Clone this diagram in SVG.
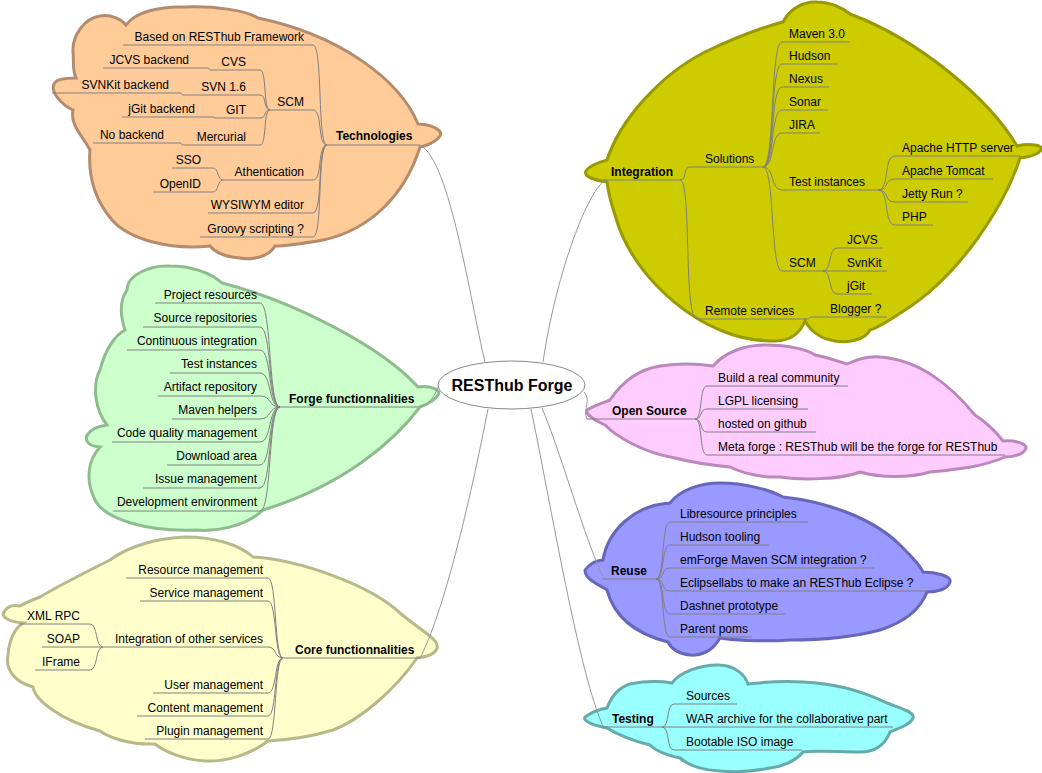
<svg xmlns="http://www.w3.org/2000/svg" width="1042" height="773" viewBox="0 0 1042 773">
<style>
.t{font-family:"Liberation Sans",Arial,sans-serif;font-size:12px;fill:#000}
.b{font-weight:bold}
.e{text-anchor:end}
.u{fill:none;stroke:#808080;stroke-width:1}
.c{fill:none;stroke:#808080;stroke-width:1}
.r{fill:none;stroke:#999;stroke-width:1}
.cl{stroke-width:3}
</style>
<rect width="1042" height="773" fill="#fff"/>

<g id="clouds">
<path class="cl" fill="#FFCC99" stroke="#B38B6D" d="M73,52 C72,35 85,18 100,16 C112,14 122,20 126,25 C135,12 160,6 185,7 C215,6 245,10 258,18 C340,35 400,80 418,124 C430,124 444,130 440,136 C436,142 426,146 420,147 C405,195 370,230 323,240 C300,244 285,246 275,246 C268,258 250,260 240,258 C225,257 215,252 210,246 C170,250 130,240 112,220 C95,200 88,175 90,150 C82,135 70,125 73,110 C62,105 50,92 54,84 C56,78 70,78 76,78 C72,70 74,60 73,52 Z"/>
<path class="cl" fill="#CCCC00" stroke="#999900" d="M607,160 C620,120 660,75 705,52 C730,40 760,28 783,22 C790,8 805,1 817,2 C830,2 843,8 850,14 C920,40 990,100 1017,146 C1030,143 1044,145 1041,150 C1038,155 1028,157 1020,158 C1005,205 960,275 905,310 C890,320 880,327 870,330 C865,340 848,343 835,341 C820,339 810,330 805,321 C800,333 790,341 775,341 C760,341 740,338 725,332 C680,315 630,270 615,215 C610,200 608,190 607,182 C595,180 583,177 586,171 C589,165 600,162 607,160 Z"/>
<path class="cl" fill="#CCFFCC" stroke="#8FBC8F" d="M127,290 C127,275 150,265 170,266 C190,266 210,272 222,283 C290,300 380,345 418,387 C430,385 442,390 438,395 C434,402 425,405 420,407 C395,440 345,485 263,510 C245,527 215,532 195,530 C150,532 105,520 95,500 C85,480 88,460 100,447 C85,446 85,438 88,434 C92,428 100,426 107,425 C95,410 92,385 100,370 C105,350 115,335 125,330 C120,315 120,300 127,290 Z"/>
<path class="cl" fill="#FFFFCC" stroke="#B8B88A" d="M40,597 C60,585 90,570 110,560 C130,545 160,538 185,537 C215,537 240,545 253,557 C300,560 370,585 400,613 C420,630 440,640 437,648 C435,655 425,657 417,658 C395,690 360,720 333,730 C310,737 285,740 268,741 C250,755 225,762 205,761 C185,760 165,752 155,744 C130,745 110,738 100,731 C60,720 35,700 33,687 C15,682 5,670 8,655 C9,640 15,628 23,623 C10,622 0,617 4,612 C8,605 15,605 20,606 C25,603 32,600 40,597 Z"/>
<path class="cl" fill="#FFCCFF" stroke="#BB88BB" d="M587,410 C595,405 605,402 610,400 C620,385 635,370 660,366 C680,363 700,364 713,366 C725,352 745,345 765,345 C790,345 808,350 815,355 C830,358 840,362 847,364 C860,358 872,356 880,357 C920,360 950,385 975,415 C990,425 1000,437 1003,441 C1015,440 1030,444 1025,450 C1022,455 1012,457 1005,457 C980,468 950,470 930,472 C910,478 880,478 860,472 C840,480 800,480 780,477 C760,478 740,472 730,467 C710,465 690,462 675,458 C640,452 615,435 605,425 C595,420 585,415 587,410 Z"/>
<path class="cl" fill="#9999FF" stroke="#6666BB" d="M585,570 C590,563 598,560 603,560 C608,530 635,505 670,503 C680,490 700,483 720,483 C745,483 770,490 783,497 C830,502 875,520 900,545 C912,557 920,565 923,572 C935,572 952,576 950,582 C948,590 935,592 927,592 C920,610 905,622 880,630 C850,638 815,640 790,640 C760,642 730,640 720,638 C712,652 700,656 690,655 C680,654 672,650 668,642 C640,635 615,620 607,590 C600,585 585,580 585,570 Z"/>
<path class="cl" fill="#99FFFF" stroke="#66AAAA" d="M585,717 C592,712 600,709 607,708 C612,695 620,687 630,684 C645,681 660,681 672,683 C680,672 700,665 718,665 C735,665 745,675 748,684 C765,682 785,681 803,682 C830,683 860,690 887,703 C900,708 915,712 913,718 C911,724 900,728 890,732 C885,745 875,752 860,752 C840,752 815,750 803,752 C795,762 780,767 770,768 C750,772 730,772 720,771 C700,770 688,765 680,758 C665,755 655,750 650,745 C630,740 615,733 607,728 C597,726 582,722 585,717 Z"/>
</g>

<g id="connectors">
<path class="r" d="M420,145 C450,160 470,300 485,362"/>
<path class="r" d="M605,180 C585,195 555,280 543,362"/>
<path class="r" d="M418,407 C430,405 435,395 438,387"/>
<path class="r" d="M420,658 C450,600 480,450 488,409"/>
<path class="r" d="M584,392 C592,400 582,410 587,419"/>
<path class="r" d="M542,408 C560,450 585,540 604,579"/>
<path class="r" d="M531,409 C550,500 580,680 604,728"/>
<path class="c" d="M313,45 C323,45 317,145 327,145 M313,110 C323,110 317,145 327,145 M313,180 C323,180 317,145 327,145 M313,213 C323,213 317,145 327,145 M313,237 C323,237 317,145 327,145"/>
<path class="c" d="M260,70 C267,70 263,110 270,110 M260,95 C267,95 263,110 270,110 M260,118 C267,118 263,110 270,110 M260,145 C267,145 263,110 270,110"/>
<path class="c" d="M208,68 C209,68 209,70 210,70 M180,93 C182,93 181,95 183,95 M213,117 C214,117 214,118 215,118 M180,143 C182,143 181,145 183,145"/>
<path class="c" d="M213,168 C219,168 217,180 223,180 M213,192 C219,192 217,180 223,180"/>
<path class="c" d="M680,180 C688,180 682,167 690,167 M680,180 C692,180 683,319 697,319 M807,319 C810,319 808,317 812,317"/>
<path class="c" d="M763,167 C775,167 770,42 782,42 M763,167 C775,167 770,64 782,64 M763,167 C775,167 770,87 782,87 M763,167 C775,167 770,110 782,110 M763,167 C775,167 770,133 782,133 M763,167 C775,167 770,190 782,190 M763,167 C775,167 770,271 782,271"/>
<path class="c" d="M878,190 C890,190 883,156 895,156 M878,190 C890,190 883,179 895,179 M878,190 C890,190 883,202 895,202 M878,190 C890,190 883,225 895,225"/>
<path class="c" d="M823,271 C832,271 828,248 837,248 M823,271 H837 M823,271 C832,271 828,294 837,294"/>
<path class="c" d="M260,303 C272,303 268,407 280,407 M260,327 C272,327 268,407 280,407 M260,350 C272,350 268,407 280,407 M260,373 C272,373 268,407 280,407 M260,396 C272,396 268,407 280,407 M260,419 C272,419 268,407 280,407 M260,442 C272,442 268,407 280,407 M260,465 C272,465 268,407 280,407 M260,488 C272,488 268,407 280,407 M260,511 C272,511 268,407 280,407"/>
<path class="c" d="M268,578 C277,578 274,658 283,658 M268,601 C277,601 274,658 283,658 M268,647 C277,647 274,658 283,658 M268,693 C277,693 274,658 283,658 M268,716 C277,716 274,658 283,658 M268,739 C277,739 274,658 283,658"/>
<path class="c" d="M90,624 C98,624 95,647 103,647 M90,647 H103 M90,670 C98,670 95,647 103,647"/>
<path class="c" d="M695,419 C703,419 699,386 707,386 M695,419 C703,419 699,409 707,409 M695,419 C703,419 699,432 707,432 M695,419 C703,419 699,455 707,455"/>
<path class="c" d="M656,579 C665,579 661,522 670,522 M656,579 C665,579 661,545 670,545 M656,579 C665,579 661,568 670,568 M656,579 C665,579 661,591 670,591 M656,579 C665,579 661,614 670,614 M656,579 C665,579 661,637 670,637"/>
<path class="c" d="M662,727 C670,727 666,704 674,704 M662,727 H674 M662,727 C670,727 666,750 674,750"/>
</g>

<g id="root">
<ellipse cx="511.5" cy="385" rx="73.5" ry="24" fill="#fff" stroke="#888" stroke-width="1"/>
<text class="t b" x="512" y="391" text-anchor="middle" style="font-size:16px">RESThub Forge</text>
</g>

<g id="technologies">
<path class="u" d="M327,145 H420"/><text class="t b" x="336" y="140">Technologies</text>
</g>
<g id="tech-children">
<g id="n-based"><path class="u" d="M123,45 H313"/><text class="t e" x="304" y="41">Based on RESThub Framework</text></g>
<g id="n-scm"><path class="u" d="M270,110 H313"/><text class="t e" x="304" y="106">SCM</text></g>
<g id="n-cvs"><path class="u" d="M210,70 H260"/><text class="t e" x="246" y="66">CVS</text></g>
<g id="n-jcvsb"><path class="u" d="M103,68 H208"/><text class="t e" x="189" y="64">JCVS backend</text></g>
<g id="n-svn"><path class="u" d="M183,95 H260"/><text class="t e" x="246" y="91">SVN 1.6</text></g>
<g id="n-svnkitb"><path class="u" d="M52,93 H180"/><text class="t e" x="169" y="89">SVNKit backend</text></g>
<g id="n-git"><path class="u" d="M215,118 H260"/><text class="t e" x="246" y="114">GIT</text></g>
<g id="n-jgitb"><path class="u" d="M122,117 H213"/><text class="t e" x="195" y="113">jGit backend</text></g>
<g id="n-merc"><path class="u" d="M183,145 H260"/><text class="t e" x="246" y="141">Mercurial</text></g>
<g id="n-nob"><path class="u" d="M93,143 H180"/><text class="t e" x="164" y="139">No backend</text></g>
<g id="n-auth"><path class="u" d="M223,180 H313"/><text class="t e" x="304" y="176">Athentication</text></g>
<g id="n-sso"><path class="u" d="M172,168 H213"/><text class="t e" x="201" y="164">SSO</text></g>
<g id="n-openid"><path class="u" d="M153,192 H213"/><text class="t e" x="201" y="188">OpenID</text></g>
<g id="n-wysiwym"><path class="u" d="M208,213 H313"/><text class="t e" x="304" y="209">WYSIWYM editor</text></g>
<g id="n-groovy"><path class="u" d="M200,237 H313"/><text class="t e" x="304" y="233">Groovy scripting ?</text></g>
</g>

<g id="integration">
<path class="u" d="M603,180 H680"/><text class="t b" x="611" y="176">Integration</text>
</g>
<g id="int-children">
<g id="n-solutions"><path class="u" d="M690,167 H763"/><text class="t" x="705" y="163">Solutions</text></g>
<g id="n-maven"><path class="u" d="M782,42 H850"/><text class="t" x="789" y="38">Maven 3.0</text></g>
<g id="n-hudson"><path class="u" d="M782,64 H838"/><text class="t" x="789" y="60">Hudson</text></g>
<g id="n-nexus"><path class="u" d="M782,87 H829"/><text class="t" x="789" y="83">Nexus</text></g>
<g id="n-sonar"><path class="u" d="M782,110 H828"/><text class="t" x="789" y="106">Sonar</text></g>
<g id="n-jira"><path class="u" d="M782,133 H820"/><text class="t" x="789" y="129">JIRA</text></g>
<g id="n-testinst"><path class="u" d="M782,190 H878"/><text class="t" x="789" y="186">Test instances</text></g>
<g id="n-ahttp"><path class="u" d="M895,156 H1020"/><text class="t" x="902" y="152">Apache HTTP server</text></g>
<g id="n-tomcat"><path class="u" d="M895,179 H993"/><text class="t" x="902" y="175">Apache Tomcat</text></g>
<g id="n-jetty"><path class="u" d="M895,202 H968"/><text class="t" x="902" y="198">Jetty Run ?</text></g>
<g id="n-php"><path class="u" d="M895,225 H933"/><text class="t" x="902" y="221">PHP</text></g>
<g id="n-iscm"><path class="u" d="M782,271 H823"/><text class="t" x="789" y="267">SCM</text></g>
<g id="n-jcvs"><path class="u" d="M837,248 H883"/><text class="t" x="847" y="244">JCVS</text></g>
<g id="n-svnkit"><path class="u" d="M837,271 H887"/><text class="t" x="847" y="267">SvnKit</text></g>
<g id="n-jgit"><path class="u" d="M837,294 H872"/><text class="t" x="847" y="290">jGit</text></g>
<g id="n-remote"><path class="u" d="M697,319 H807"/><text class="t" x="705" y="315">Remote services</text></g>
<g id="n-blogger"><path class="u" d="M812,317 H887"/><text class="t" x="830" y="313">Blogger ?</text></g>
</g>

<g id="forge">
<path class="u" d="M280,407 H418"/><text class="t b" x="289" y="403">Forge functionnalities</text>
</g>
<g id="forge-children">
<g id="f1"><path class="u" d="M155,303 H260"/><text class="t e" x="257" y="299">Project resources</text></g>
<g id="f2"><path class="u" d="M143,327 H260"/><text class="t e" x="257" y="322">Source repositories</text></g>
<g id="f3"><path class="u" d="M127,350 H260"/><text class="t e" x="257" y="345">Continuous integration</text></g>
<g id="f4"><path class="u" d="M170,373 H260"/><text class="t e" x="257" y="368">Test instances</text></g>
<g id="f5"><path class="u" d="M158,396 H260"/><text class="t e" x="257" y="391">Artifact repository</text></g>
<g id="f6"><path class="u" d="M172,419 H260"/><text class="t e" x="257" y="414">Maven helpers</text></g>
<g id="f7"><path class="u" d="M112,442 H260"/><text class="t e" x="257" y="437">Code quality management</text></g>
<g id="f8"><path class="u" d="M167,465 H260"/><text class="t e" x="257" y="460">Download area</text></g>
<g id="f9"><path class="u" d="M143,488 H260"/><text class="t e" x="257" y="483">Issue management</text></g>
<g id="f10"><path class="u" d="M113,511 H260"/><text class="t e" x="257" y="506">Development environment</text></g>
</g>

<g id="core">
<path class="u" d="M283,658 H420"/><text class="t b" x="295" y="654">Core functionnalities</text>
</g>
<g id="core-children">
<g id="c1"><path class="u" d="M126,578 H268"/><text class="t e" x="263" y="574">Resource management</text></g>
<g id="c2"><path class="u" d="M140,601 H268"/><text class="t e" x="263" y="597">Service management</text></g>
<g id="c3"><path class="u" d="M103,647 H268"/><text class="t e" x="263" y="643">Integration of other services</text></g>
<g id="c3a"><path class="u" d="M20,624 H90"/><text class="t e" x="80" y="620">XML RPC</text></g>
<g id="c3b"><path class="u" d="M42,647 H90"/><text class="t e" x="80" y="643">SOAP</text></g>
<g id="c3c"><path class="u" d="M35,670 H90"/><text class="t e" x="80" y="666">IFrame</text></g>
<g id="c4"><path class="u" d="M153,693 H268"/><text class="t e" x="263" y="689">User management</text></g>
<g id="c5"><path class="u" d="M137,716 H268"/><text class="t e" x="263" y="712">Content management</text></g>
<g id="c6"><path class="u" d="M145,739 H268"/><text class="t e" x="263" y="735">Plugin management</text></g>
</g>

<g id="opensource">
<path class="u" d="M587,419 H695"/><text class="t b" x="612" y="415">Open Source</text>
</g>
<g id="os-children">
<g id="o1"><path class="u" d="M707,386 H848"/><text class="t" x="718" y="382">Build a real community</text></g>
<g id="o2"><path class="u" d="M707,409 H808"/><text class="t" x="718" y="405">LGPL licensing</text></g>
<g id="o3"><path class="u" d="M707,432 H816"/><text class="t" x="718" y="428">hosted on github</text></g>
<g id="o4"><path class="u" d="M707,455 H1005"/><text class="t" x="718" y="451">Meta forge : RESThub will be the forge for RESThub</text></g>
</g>

<g id="reuse">
<path class="u" d="M603,579 H656"/><text class="t b" x="611" y="575">Reuse</text>
</g>
<g id="reuse-children">
<g id="r1"><path class="u" d="M670,522 H808"/><text class="t" x="680" y="518">Libresource principles</text></g>
<g id="r2"><path class="u" d="M670,545 H769"/><text class="t" x="680" y="541">Hudson tooling</text></g>
<g id="r3"><path class="u" d="M670,568 H874"/><text class="t" x="680" y="564">emForge Maven SCM integration ?</text></g>
<g id="r4"><path class="u" d="M670,591 H928"/><text class="t" x="680" y="587">Eclipsellabs to make an RESThub Eclipse ?</text></g>
<g id="r5"><path class="u" d="M670,614 H786"/><text class="t" x="680" y="610">Dashnet prototype</text></g>
<g id="r6"><path class="u" d="M670,637 H752"/><text class="t" x="680" y="633">Parent poms</text></g>
</g>

<g id="testing">
<path class="u" d="M603,727 H662"/><text class="t b" x="612" y="723">Testing</text>
</g>
<g id="testing-children">
<g id="t1"><path class="u" d="M674,704 H737"/><text class="t" x="686" y="700">Sources</text></g>
<g id="t2"><path class="u" d="M674,727 H893"/><text class="t" x="686" y="723">WAR archive for the collaborative part</text></g>
<g id="t3"><path class="u" d="M674,750 H802"/><text class="t" x="686" y="746">Bootable ISO image</text></g>
</g>
</svg>
